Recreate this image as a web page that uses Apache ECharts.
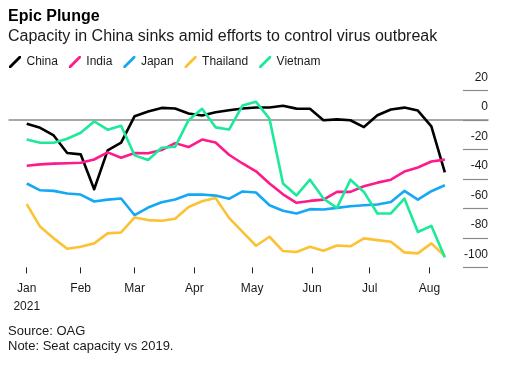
<!DOCTYPE html>
<html>
<head>
<meta charset="utf-8">
<script src="https://cdn.jsdelivr.net/npm/echarts@6/dist/echarts.min.js"></script>
<style>
html,body{margin:0;padding:0;background:#fff;}
#chart{width:505px;height:366px;}
</style>
</head>
<body>
<div id="chart"></div>
<script>
// ---- data (weekly, seat capacity vs 2019, %) ----
const weeks = ['2021-01-04','2021-01-11','2021-01-18','2021-01-25','2021-02-01','2021-02-08','2021-02-15','2021-02-22',
  '2021-03-01','2021-03-08','2021-03-15','2021-03-22','2021-03-29','2021-04-05','2021-04-12','2021-04-19','2021-04-26',
  '2021-05-03','2021-05-10','2021-05-17','2021-05-24','2021-05-31','2021-06-07','2021-06-14','2021-06-21','2021-06-28',
  '2021-07-05','2021-07-12','2021-07-19','2021-07-26','2021-08-02','2021-08-09'];
const china = [-2.5,-5.3,-10.5,-22.4,-23.3,-47,-20.6,-15.4,2.6,5.7,8.2,7.8,4.4,3.0,5.3,6.6,7.8,8.5,8.5,9.6,7.7,7.6,-0.2,0.4,-0.2,-4.8,3.2,7.1,8.4,6.4,-4.3,-35.5];
const india = [-31,-30.1,-29.6,-29.4,-29,-26.8,-22,-25.6,-22.4,-22.6,-20.4,-15.7,-18.4,-13.3,-15.3,-23.6,-29.5,-34.8,-43.1,-50.4,-56.2,-54.9,-54,-48.8,-48.8,-45,-42.5,-40.5,-35,-32.2,-28.2,-26.9];
const japan = [-43.1,-47.7,-48.1,-49.9,-50.6,-55.3,-54,-53.3,-64.6,-59.4,-55.8,-54,-50.6,-50.6,-51.3,-53.5,-48.5,-49.2,-57.8,-61.6,-63.4,-60.5,-60.7,-59.6,-58.5,-57.8,-57.3,-55.6,-48.1,-54,-48.3,-44.3];
const thailand = [-57.1,-72.5,-80.3,-87.4,-86,-83.7,-76.9,-76.3,-66.1,-67.9,-68.4,-67,-59,-55.1,-52.9,-66.4,-75.9,-85.3,-79.2,-88.9,-89.6,-86,-88.7,-85.1,-85.7,-80.3,-81.5,-82.6,-89.8,-90.5,-83.7,-92.3];
const vietnam = [-13.3,-15.4,-15.4,-12.7,-8.7,-1,-6.6,-3.9,-24,-27.1,-18.8,-18.2,-0.1,7.6,-5,-6.5,9.8,12.3,0.8,-43.1,-51.2,-40.5,-53.3,-59.6,-40.5,-48.8,-63.4,-63.4,-53.3,-76,-71.8,-93.2];
const seriesNames = ['China','India','Japan','Thailand','Vietnam'];
const tickDates = ['2021-01-04','2021-02-01','2021-03-01','2021-04-01','2021-05-01','2021-06-01','2021-07-01','2021-08-01'];
const tickLabels = ['Jan\n2021','Feb','Mar','Apr','May','Jun','Jul','Aug'];
const yTicks = [20, 0, -20, -40, -60, -80, -100];

// ---- build ----
const DAY = 86400000;
const ts = s => { const p = s.split('-').map(Number); return Date.UTC(p[0], p[1]-1, p[2]); };
const EPOCH = ts('2021-01-01');
const dayNum = s => Math.round((ts(s) - EPOCH) / DAY);
const tickDays = tickDates.map(dayNum);
const colors = ['#000000','#ff1a8c','#14a8f5','#fcc233','#1de99b'];
const values = [china, india, japan, thailand, vietnam];
const xMin = dayNum(weeks[0]) - 9.2;
const xMax = dayNum(weeks[weeks.length-1]) + 22.4;
const FONT = '"Liberation Sans", Arial, Helvetica, sans-serif';
const TXT = '#1a1a1a';

const chart = echarts.init(document.getElementById('chart'), null, {renderer:'canvas'});
chart.setOption({
  animation: false,
  backgroundColor: '#ffffff',
  textStyle: { fontFamily: FONT },
  title: [
    { text: 'Epic Plunge', left: 8, top: 7, padding: 0,
      textStyle: { fontFamily: FONT, fontSize: 16, fontWeight: 'bold', color: '#000', lineHeight: 20 } },
    { text: 'Capacity in China sinks amid efforts to control virus outbreak', left: 8, top: 27, padding: 0,
      textStyle: { fontFamily: FONT, fontSize: 16, fontWeight: 'normal', color: TXT, lineHeight: 20 } },
    { text: 'Source: OAG\nNote: Seat capacity vs 2019.', left: 8, top: 324, padding: 0,
      textStyle: { fontFamily: FONT, fontSize: 13, fontWeight: 'normal', color: TXT, lineHeight: 15 } }
  ],
  legend: {
    left: 9, top: 56, padding: 0, itemGap: 11, itemWidth: 13, itemHeight: 12,
    icon: 'path://M0,12 L2,12 L12,2 L12,0 L10,0 L0,10 Z',
    textStyle: { fontFamily: FONT, fontSize: 12, color: TXT },
    data: seriesNames
  },
  grid: { left: 9, right: 17, top: 90.5, bottom: 98.6, containLabel: false },
  xAxis: [
    { type: 'value', min: xMin, max: xMax, position: 'bottom',
      axisLine: { show: false, onZero: false },
      splitLine: { show: false },
      axisTick: { show: true, length: 6, customValues: tickDays, lineStyle: { color: '#222', width: 1 } },
      axisLabel: { show: true, customValues: tickDays, margin: 12, fontFamily: FONT, fontSize: 12, color: TXT,
        lineHeight: 18, hideOverlap: false, showMinLabel: true, showMaxLabel: true,
        formatter: function (v) { const i = tickDays.indexOf(Math.round(v)); return i >= 0 ? tickLabels[i] : ''; } }
    },
    { type: 'value', min: xMin, max: xMax, position: 'top',
      axisLine: { show: true, onZero: true, lineStyle: { color: '#8a8a8a', width: 1.5 } },
      axisTick: { show: false }, axisLabel: { show: false }, splitLine: { show: false }
    }
  ],
  yAxis: {
    type: 'value', min: -100, max: 20, interval: 20, position: 'right',
    axisLine: { show: false, onZero: false },
    splitLine: { show: false },
    axisTick: { show: true, inside: true, length: 25, lineStyle: { color: '#8a8a8a', width: 1.2 } },
    axisLabel: { show: true, inside: true, margin: 0, fontFamily: FONT, fontSize: 12, color: TXT,
      verticalAlign: 'bottom', align: 'right', padding: [0, 0, 7, 0],
      formatter: function (v) { return yTicks.indexOf(v) >= 0 ? String(v) : ''; } }
  },
  series: seriesNames.map((name, k) => ({
    name: name, type: 'line', xAxisIndex: 0, yAxisIndex: 0,
    symbol: 'none', smooth: false,
    color: colors[k],
    lineStyle: { color: colors[k], width: 2.6, join: 'round' },
    data: weeks.map((w, i) => [dayNum(w), values[k][i]])
  }))
});
</script>
</body>
</html>
